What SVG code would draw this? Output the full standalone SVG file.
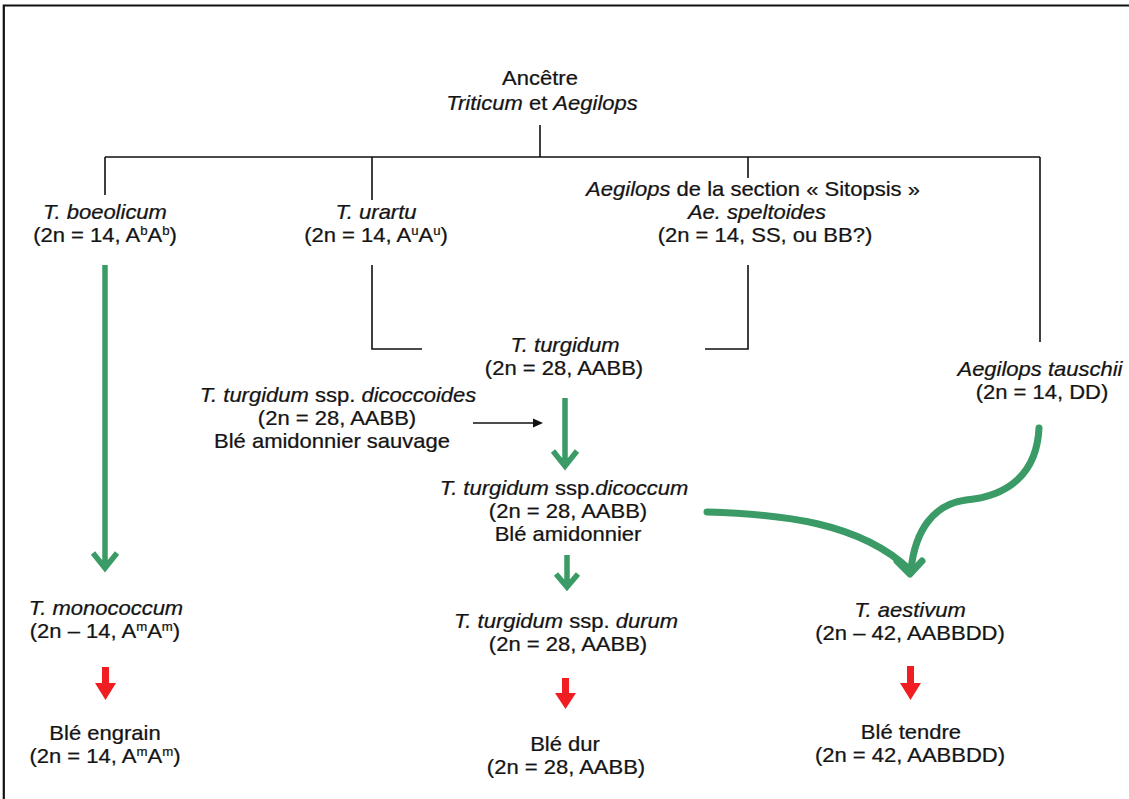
<svg xmlns="http://www.w3.org/2000/svg" width="1129" height="799" viewBox="0 0 1129 799">
<style>
.t{font-family:"Liberation Sans",Arial,sans-serif;font-size:20px;fill:#141414;text-anchor:middle;stroke:#141414;stroke-width:0.25}
.i{font-style:italic}
.sup{font-size:12px}
.ln{fill:none;stroke:#111;stroke-width:1.6}
.g{fill:none;stroke:#3a9b66;stroke-width:5.5;stroke-linecap:butt;stroke-linejoin:miter}
.gc{fill:none;stroke:#3a9b66;stroke-width:7;stroke-linecap:round;stroke-linejoin:round}
.r{fill:#f01e23}
</style>
<rect width="1129" height="799" fill="#fff"/>
<path d="M3.8,799 V5.5 H1129" fill="none" stroke="#111" stroke-width="2.2"/>

<g id="connectors">
  <path class="ln" d="M540,125 V157 M105,157 H1040 M105,157 V195 M372,157 V200 M748,157 V178 M1040,157 V342"/>
  <path class="ln" d="M372,265 V349 H422 M748,265 V349 H705"/>
  <path class="ln" d="M473,423 H536"/>
  <polygon points="533,418.5 543,423 533,427.5" fill="#111"/>
  <path class="g" d="M105,265 V568 M93,553 L105,568 L117,553"/>
  <path class="g" d="M565,398 V465 M553,451 L565,466 L577,451"/>
  <path class="g" d="M567,555 V586 M556,574 L567,587 L578,574"/>
  <path class="gc" d="M707,512 C780,514 860,522 910,570"/>
  <path class="gc" d="M1039,428 C1037,472 1010,496 966,500 C934,504 915,530 911,570"/>
  <path class="gc" d="M897,561 L910,574 L922,561"/>
  <path class="r" d="M102,667 H109 V683 H116 L105.5,700 L95,683 H102 Z"/>
  <path class="r" d="M562,678 H569 V693 H576 L565.5,709 L555,693 H562 Z"/>
  <path class="r" d="M907,666 H914 V683 H921 L910.5,700 L900,683 H907 Z"/>
</g>

<g transform="scale(1.1 1)">
<g id="ancetre">
  <text class="t"><tspan x="490.91" y="85">Ancêtre</tspan><tspan x="492.73" y="110"><tspan class="i">Triticum</tspan> et <tspan class="i">Aegilops</tspan></tspan></text>
</g>
<g id="boeoticum">
  <text class="t"><tspan class="i" x="95.45" y="219">T. boeolicum</tspan><tspan x="95.45" y="242">(2n = 14, A<tspan class="sup" dy="-7">b</tspan><tspan dy="7">A</tspan><tspan class="sup" dy="-7">b</tspan><tspan dy="7">)</tspan></tspan></text>
</g>
<g id="urartu">
  <text class="t"><tspan class="i" x="341.82" y="219">T. urartu</tspan><tspan x="341.82" y="242">(2n = 14, A<tspan class="sup" dy="-7">u</tspan><tspan dy="7">A</tspan><tspan class="sup" dy="-7">u</tspan><tspan dy="7">)</tspan></tspan></text>
</g>
<g id="sitopsis">
  <text class="t"><tspan x="684.55" y="196"><tspan class="i">Aegilops</tspan> de la section « Sitopsis »</tspan><tspan class="i" x="688.18" y="219">Ae. speltoides</tspan><tspan x="695.45" y="242">(2n = 14, SS, ou BB?)</tspan></text>
</g>
<g id="turgidum">
  <text class="t"><tspan class="i" x="513.64" y="352">T. turgidum</tspan><tspan x="512.73" y="375">(2n = 28, AABB)</tspan></text>
</g>
<g id="dicoccoides">
  <text class="t"><tspan x="307.27" y="402"><tspan class="i">T. turgidum</tspan> ssp. <tspan class="i">dicoccoides</tspan></tspan><tspan x="306.36" y="425">(2n = 28, AABB)</tspan><tspan x="301.82" y="448">Blé amidonnier sauvage</tspan></text>
</g>
<g id="tauschii">
  <text class="t"><tspan class="i" x="945.45" y="376">Aegilops tauschii</tspan><tspan x="947.27" y="399">(2n = 14, DD)</tspan></text>
</g>
<g id="dicoccum">
  <text class="t"><tspan x="512.73" y="495"><tspan class="i">T. turgidum</tspan> ssp.<tspan class="i">dicoccum</tspan></tspan><tspan x="516.36" y="518">(2n = 28, AABB)</tspan><tspan x="516.36" y="541">Blé amidonnier</tspan></text>
</g>
<g id="monococcum">
  <text class="t"><tspan class="i" x="96.36" y="615">T. monococcum</tspan><tspan x="95.45" y="638">(2n – 14, A<tspan class="sup" dy="-7">m</tspan><tspan dy="7">A</tspan><tspan class="sup" dy="-7">m</tspan><tspan dy="7">)</tspan></tspan></text>
</g>
<g id="durum">
  <text class="t"><tspan x="514.55" y="628"><tspan class="i">T. turgidum</tspan> ssp. <tspan class="i">durum</tspan></tspan><tspan x="516.36" y="651">(2n = 28, AABB)</tspan></text>
</g>
<g id="aestivum">
  <text class="t"><tspan class="i" x="827.27" y="617">T. aestivum</tspan><tspan x="827.27" y="640">(2n – 42, AABBDD)</tspan></text>
</g>
<g id="engrain">
  <text class="t"><tspan x="95.45" y="740">Blé engrain</tspan><tspan x="95.45" y="763">(2n = 14, A<tspan class="sup" dy="-7">m</tspan><tspan dy="7">A</tspan><tspan class="sup" dy="-7">m</tspan><tspan dy="7">)</tspan></tspan></text>
</g>
<g id="ble-dur">
  <text class="t"><tspan x="513.64" y="751">Blé dur</tspan><tspan x="514.55" y="774">(2n = 28, AABB)</tspan></text>
</g>
<g id="ble-tendre">
  <text class="t"><tspan x="828.18" y="739">Blé tendre</tspan><tspan x="827.27" y="762">(2n = 42, AABBDD)</tspan></text>
</g>
</g>
</svg>
